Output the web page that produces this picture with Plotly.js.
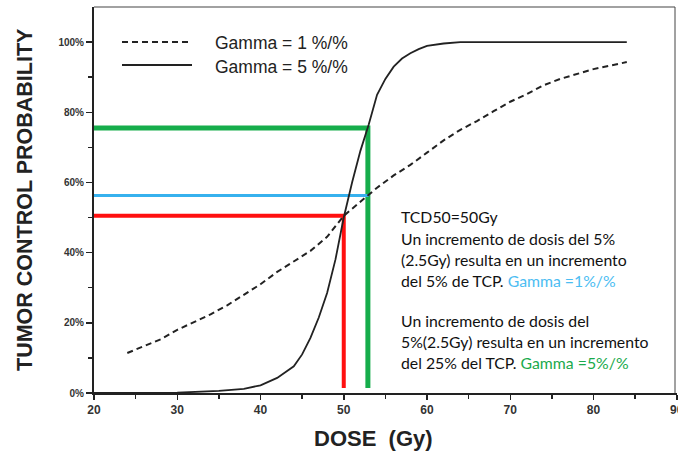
<!DOCTYPE html>
<html><head><meta charset="utf-8">
<script src="https://cdn.plot.ly/plotly-3.0.1.min.js"></script>
<style>html,body{margin:0;padding:0;background:#fff;overflow:hidden}</style>
</head><body><div id="chart" style="width:678px;height:455px"></div>
<script>
// Data
const doseGamma1 = [24,26,28,30,32,34,36,38,40,42,44,46,48,50,52,54,56,58,60,62,64,66,68,70,72,74,76,78,80,82,84];
const tcpGamma1  = [11.4,13.3,15.3,18,20.2,22.4,25,28,31,34.5,37.5,40.5,44.5,50.5,54.5,58.5,62,65,68.5,72,75,77.5,80.3,83,85.2,87.7,89.5,91,92.3,93.3,94.3];
const doseGamma5 = [20,25,30,35,38,40,42,44,45,46,47,48,49,50,51,52,53,54,55,56,57,58,59,60,62,64,70,75,80,84];
const tcpGamma5  = [0,0,0.1,0.6,1.2,2.2,4.3,7.6,11,15.7,21.5,28.5,38,50,60,69,76.5,85,89.5,93,95.3,96.8,98,98.9,99.6,100,100,100,100,100];
const redX = [20,50,50],   redY = [50.5,50.5,1.4];
const blueX = [20,53],     blueY = [56.3,56.3];
const greenX = [20,52.9,52.9], greenY = [75.5,75.5,1.4];
const xTickVals = [20,30,40,50,60,70,80,90];
const xTickText = ['20','30','40','50','60','70','80','90'];
const yTickVals = [0,20,40,60,80,100];
const yTickText = ['0%','20%','40%','60%','80%','100%'];
const legendLabels = ['Gamma = 1 %/%','Gamma = 5 %/%'];
const noteLines = [
  'TCD50=50Gy',
  'Un incremento de dosis del 5%',
  '(2.5Gy) resulta en un incremento',
  'del 5% de TCP. <span style="color:#4cbdf2">Gamma =1%/%</span>',
  'Un incremento de dosis del',
  '5%(2.5Gy) resulta en un incremento',
  'del 25% del TCP. <span style="color:#1aaa4c">Gamma =5%/%</span>'
];
const noteY = [217,238,259,280,320,341,362];

const W=678,H=455,L=94,R=1,T=7,B=62;
const pw=W-L-R, ph=H-T-B;
const px=x=>(x-L)/pw, py=y=>(H-B-y)/ph;

const traces = [
  {x:greenX,y:greenY,mode:'lines',line:{color:'#16ad4b',width:5},hoverinfo:'skip',showlegend:false},
  {x:blueX,y:blueY,mode:'lines',line:{color:'#36b1ee',width:3},hoverinfo:'skip',showlegend:false},
  {x:redX,y:redY,mode:'lines',line:{color:'#ff1010',width:4},hoverinfo:'skip',showlegend:false},
  {x:doseGamma1,y:tcpGamma1,mode:'lines',line:{color:'#222',width:2,dash:'6px,4px'},name:legendLabels[0],showlegend:false},
  {x:doseGamma5,y:tcpGamma5,mode:'lines',line:{color:'#222',width:1.8},name:legendLabels[1],showlegend:false}
];

const annotations = [
  {xref:'paper',yref:'paper',x:px(213),y:py(43),xanchor:'left',yanchor:'middle',text:legendLabels[0],showarrow:false,font:{family:'Liberation Sans, Arial',size:17.5,color:'#222'}},
  {xref:'paper',yref:'paper',x:px(213),y:py(67),xanchor:'left',yanchor:'middle',text:legendLabels[1],showarrow:false,font:{family:'Liberation Sans, Arial',size:17.5,color:'#222'}},
  {xref:'paper',yref:'paper',x:px(25),y:py(200),xanchor:'center',yanchor:'middle',textangle:-90,text:'<b>TUMOR CONTROL PROBABILITY</b>',showarrow:false,font:{family:'Liberation Sans, Arial',size:21.5,color:'#222'}},
  {xref:'paper',yref:'paper',x:px(373),y:py(438),xanchor:'center',yanchor:'middle',text:'<b>DOSE  (Gy)</b>',showarrow:false,font:{family:'Liberation Sans, Arial',size:22,color:'#222'}}
];
noteLines.forEach((t,i)=>annotations.push({xref:'paper',yref:'paper',x:px(399),y:py(noteY[i]),xanchor:'left',yanchor:'middle',text:t,showarrow:false,font:{family:'Lato, Open Sans, sans-serif',size:15.8,color:'#111'}}));

const shapes = [
  {type:'line',xref:'paper',yref:'paper',x0:px(122),x1:px(190),y0:py(42),y1:py(42),line:{color:'#222',width:2,dash:'6px,4px'}},
  {type:'line',xref:'paper',yref:'paper',x0:px(122),x1:px(192),y0:py(65),y1:py(65),line:{color:'#222',width:2}},
  {type:'line',xref:'paper',yref:'paper',x0:0,x1:px(675),y0:1,y1:1,line:{color:'#444',width:1.2}},
  {type:'line',xref:'paper',yref:'paper',x0:px(675),x1:px(675),y0:0,y1:1,line:{color:'#444',width:1}}
];

const layout = {
  width:W,height:H,margin:{l:L,r:R,t:T,b:B},
  paper_bgcolor:'#fff',plot_bgcolor:'#fff',showlegend:false,
  xaxis:{range:[20,90.03],tickvals:xTickVals,ticktext:xTickText,ticks:'outside',ticklen:5,tickwidth:1.5,tickcolor:'#222',
    ticklabeloverflow:'allow',
    minor:{dtick:5,tick0:20,ticks:'outside',ticklen:4,tickwidth:1.5,tickcolor:'#222'},
    showline:true,linecolor:'#222',linewidth:2,showgrid:false,zeroline:false,
    tickfont:{family:'Liberation Sans, Arial',size:12,color:'#333',weight:'bold'}},
  yaxis:{range:[0,110],tickvals:yTickVals,ticktext:yTickText,ticks:'outside',ticklen:6,tickwidth:1.5,tickcolor:'#222',
    minor:{tickvals:[10,30,50,70,90],ticks:'outside',ticklen:4,tickwidth:1.5,tickcolor:'#222'},
    showline:true,linecolor:'#222',linewidth:2,showgrid:false,zeroline:false,
    tickfont:{family:'Liberation Sans, Arial',size:10,color:'#333',weight:'bold'}},
  annotations:annotations,shapes:shapes
};
Plotly.newPlot('chart',traces,layout,{staticPlot:true,displayModeBar:false});
</script></body></html>
